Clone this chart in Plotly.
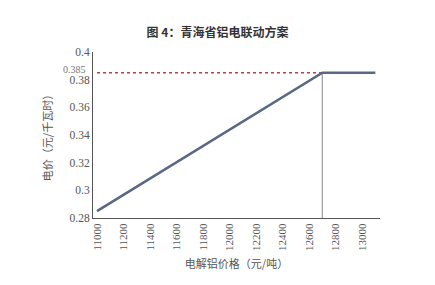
import plotly.graph_objects as go

# Data
price = [11000, 12600, 12700, 13100]
elec = [0.285, 0.3795, 0.385, 0.385]
cap_value = 0.385
knee_price = 12700
x_ticks = [11000, 11200, 11400, 11600, 11800, 12000, 12200, 12400, 12600, 12800, 13000]
y_ticks = [0.28, 0.3, 0.32, 0.34, 0.36, 0.38, 0.4]

serif = "Liberation Serif, Times New Roman, serif"
cjk = "Noto Sans CJK SC, sans-serif"

fig = go.Figure()

# red dotted cap line
fig.add_trace(go.Scatter(
    x=[price[0], knee_price], y=[cap_value, cap_value], mode="lines",
    line=dict(color="#b04050", width=1.6, dash="dot"), hoverinfo="skip"))

# vertical gray line at knee
fig.add_trace(go.Scatter(
    x=[knee_price, knee_price], y=[0.28, cap_value], mode="lines",
    line=dict(color="#a0a0a8", width=1.3), hoverinfo="skip"))

# main line
fig.add_trace(go.Scatter(
    x=price, y=elec, mode="lines",
    line=dict(color="#5b6883", width=2.6), hoverinfo="skip"))

fig.update_layout(
    width=435, height=285,
    margin=dict(l=93, r=55, t=52, b=67),
    paper_bgcolor="white", plot_bgcolor="white",
    showlegend=False,
    title=dict(text="<b>图 4：青海省铝电联动方案</b>", x=0.5, xanchor="center",
               y=1 - 33 / 285, yanchor="middle",
               font=dict(family=cjk, size=12, color="#333")),
    xaxis=dict(range=[10970, 13135], tickvals=x_ticks,
               ticktext=[str(v) for v in x_ticks], tickangle=-90,
               showgrid=False, zeroline=False, showline=True,
               linecolor="#555", linewidth=1, ticks="",
               tickfont=dict(family=serif, size=11, color="#555"),
               title=dict(text="电解铝价格（元/吨）", standoff=10,
                          font=dict(family=cjk, size=11, color="#555"))),
    yaxis=dict(range=[0.28, 0.4], tickvals=y_ticks,
               ticktext=["0.28", "0.3", "0.32", "0.34", "0.36", "0.38", "0.4"],
               showgrid=False, zeroline=False, showline=True,
               linecolor="#555", linewidth=1, ticks="",
               tickfont=dict(family=serif, size=11.5, color="#555"),
               title=dict(text="电价（元/千瓦时）", standoff=14,
                          font=dict(family=cjk, size=11, color="#555"))),
)

fig.add_annotation(x=0, xref="paper", y=cap_value, yref="y", text="0.385",
                   showarrow=False, xanchor="right", xshift=-5, yshift=3,
                   font=dict(family=serif, size=10, color="#777"))

fig.write_html("out.html")
